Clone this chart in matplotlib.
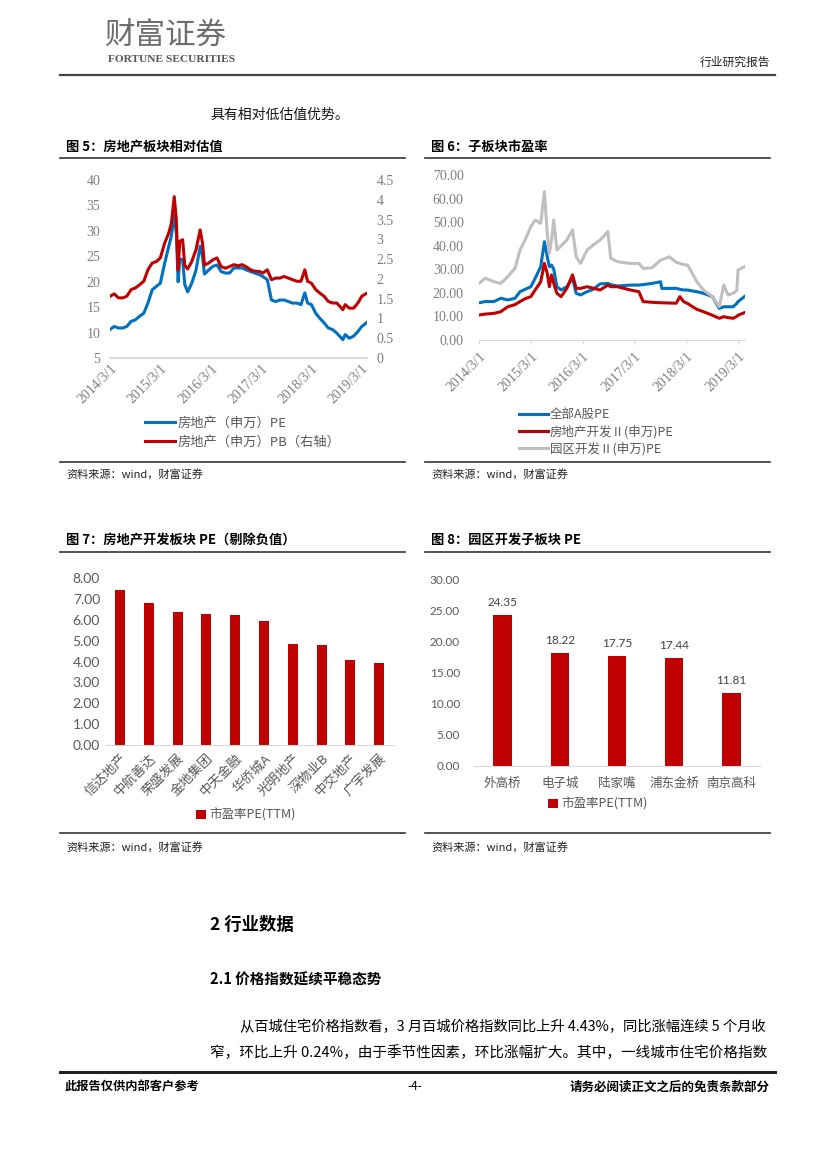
import matplotlib
matplotlib.use("Agg")
import matplotlib.pyplot as plt
from matplotlib.lines import Line2D
import numpy as np
import pandas as pd

W, H = 827, 1170
CJK = ['Noto Sans CJK SC', 'DejaVu Sans']
plt.rcParams['font.family'] = CJK

BLUE = '#0070C0'
RED = '#C00000'
GREY = '#BFBFBF'
AXIS = '#D9D9D9'
TICK = '#7F7F7F'

# ---- 图5：房地产板块相对估值 ----
dates5 = pd.to_datetime([
    '2014-03-01', '2014-04-01', '2014-05-01', '2014-06-01', '2014-07-01', '2014-08-01',
    '2014-09-01', '2014-10-01', '2014-11-01', '2014-12-01', '2015-01-01', '2015-02-01',
    '2015-03-01', '2015-04-01', '2015-05-01', '2015-05-20', '2015-06-10', '2015-06-25',
    '2015-07-08', '2015-07-20', '2015-08-10', '2015-08-25', '2015-09-15', '2015-10-15',
    '2015-11-15', '2015-12-15', '2016-01-01', '2016-01-15', '2016-02-15', '2016-03-15',
    '2016-04-15', '2016-05-15', '2016-06-15', '2016-07-15', '2016-08-15', '2016-09-15',
    '2016-10-15', '2016-11-15', '2016-12-15', '2017-01-15', '2017-02-15', '2017-03-15',
    '2017-04-15', '2017-05-15', '2017-06-15', '2017-07-15', '2017-08-15', '2017-09-15',
    '2017-10-15', '2017-11-15', '2017-12-15', '2018-01-12', '2018-02-01', '2018-03-01',
    '2018-04-01', '2018-05-01', '2018-06-01', '2018-07-01', '2018-08-01', '2018-09-01',
    '2018-10-15', '2018-11-01', '2018-12-01', '2019-01-01', '2019-02-01', '2019-03-01',
    '2019-04-08'])
pe5 = [10.6, 11.2, 10.9, 10.9, 11.2, 12.2,
       12.5, 13.2, 13.8, 15.8, 18.4, 19.1,
       19.7, 23.6, 26.9, 29.0, 33.1, 29.5,
       20.0, 24.5, 24.3, 19.5, 18.0, 19.7,
       22.3, 27.0, 25.0, 21.5, 22.3, 23.0,
       23.3, 22.0, 21.7, 21.7, 22.7, 22.7,
       22.7, 22.3, 22.0, 21.7, 21.4, 21.0,
       20.4, 16.4, 16.1, 16.4, 16.4, 16.1,
       15.8, 15.8, 15.5, 17.8, 15.8, 15.5,
       13.8, 12.8, 11.9, 10.9, 10.6, 9.9,
       8.6, 9.6, 8.9, 9.3, 10.2, 11.2,
       12.0]
pb5 = [1.56, 1.62, 1.52, 1.52, 1.56, 1.73,
       1.77, 1.85, 1.94, 2.23, 2.40, 2.44,
       2.53, 2.90, 3.16, 3.40, 4.08, 3.50,
       2.23, 2.95, 2.99, 2.35, 2.25, 2.44,
       2.74, 3.24, 2.90, 2.35, 2.40, 2.48,
       2.53, 2.31, 2.27, 2.31, 2.36, 2.33,
       2.36, 2.30, 2.23, 2.19, 2.19, 2.15,
       2.23, 1.98, 2.02, 2.02, 2.06, 2.02,
       1.98, 1.94, 1.94, 2.23, 1.94, 1.89,
       1.73, 1.64, 1.56, 1.43, 1.39, 1.39,
       1.22, 1.35, 1.26, 1.26, 1.39, 1.56,
       1.64]

# ---- 图6：子板块市盈率 ----
dates6 = pd.to_datetime([
    '2014-03-01', '2014-04-15', '2014-06-15', '2014-08-01', '2014-09-20', '2014-11-10',
    '2014-12-15', '2015-01-20', '2015-03-01', '2015-04-01', '2015-05-10', '2015-06-05',
    '2015-06-25', '2015-07-10', '2015-07-25', '2015-08-10', '2015-09-01', '2015-10-01',
    '2015-11-10', '2015-12-20', '2016-01-15', '2016-02-15', '2016-04-01', '2016-05-15',
    '2016-07-01', '2016-08-25', '2016-09-15', '2016-11-01', '2017-02-01', '2017-04-01',
    '2017-05-01', '2017-07-01', '2017-09-01', '2017-09-10', '2017-11-01', '2017-12-20',
    '2018-01-15', '2018-02-10', '2018-03-10', '2018-04-15', '2018-05-15', '2018-07-01',
    '2018-09-01', '2018-10-20', '2018-11-20', '2018-12-20', '2019-01-25', '2019-02-20',
    '2019-03-01', '2019-04-15'])
pe_all_a = [15.8, 16.3, 16.3, 17.7, 17.0, 17.7,
            20.5, 21.5, 22.6, 26.2, 31.1, 41.7,
            35.3, 31.1, 31.8, 30.0, 22.6, 21.2,
            22.6, 26.2, 19.8, 19.1, 20.5, 21.5,
            23.8, 24.0, 23.5, 22.9, 23.3, 23.3,
            23.5, 24.0, 24.7, 21.9, 21.9, 21.9,
            21.5, 21.2, 21.2, 20.8, 20.5, 19.8,
            18.4, 13.4, 14.1, 14.1, 14.1, 15.5,
            16.3, 18.4]
pe_dev = [10.6, 11.0, 11.3, 12.0, 14.1, 15.0,
          16.3, 17.5, 18.4, 21.2, 24.7, 32.5,
          28.3, 22.6, 27.6, 24.0, 19.8, 18.4,
          21.9, 27.6, 21.9, 21.9, 22.6, 22.0,
          21.2, 23.3, 22.6, 22.6, 21.2, 20.5,
          16.3, 16.0, 15.8, 15.8, 15.7, 15.6,
          18.4, 16.3, 15.5, 14.1, 13.0, 12.0,
          10.5, 9.2, 9.9, 9.5, 9.2, 10.0,
          10.5, 11.6]
pe_park = [24.0, 26.2, 24.7, 24.0, 26.9, 30.4,
           38.2, 42.4, 48.1, 50.9, 49.5, 62.9,
           45.0, 36.8, 42.4, 50.9, 38.2, 40.0,
           42.4, 46.7, 35.3, 32.5, 38.2, 40.3,
           42.4, 46.0, 34.7, 33.2, 32.5, 32.5,
           30.4, 30.6, 33.9, 34.0, 35.3, 33.0,
           32.5, 32.0, 31.8, 28.0, 24.7, 21.2,
           18.4, 14.1, 23.3, 19.1, 19.8, 21.0,
           29.7, 31.1]

tick_dates = pd.to_datetime(['2014-03-01', '2015-03-01', '2016-03-01',
                             '2017-03-01', '2018-03-01', '2019-03-01'])
tick_labels = ['2014/3/1', '2015/3/1', '2016/3/1', '2017/3/1', '2018/3/1', '2019/3/1']

# ---- 图7：房地产开发板块PE（剔除负值） ----
names7 = ['信达地产', '中航善达', '荣盛发展', '金地集团', '中天金融',
          '华侨城A', '光明地产', '深物业B', '中交地产', '广宇发展']
pe7 = [7.42, 6.81, 6.37, 6.31, 6.26, 5.96, 4.87, 4.82, 4.08, 3.92]

# ---- 图8：园区开发子板块PE ----
names8 = ['外高桥', '电子城', '陆家嘴', '浦东金桥', '南京高科']
pe8 = [24.35, 18.22, 17.75, 17.44, 11.81]


fig = plt.figure(figsize=(W / 100, H / 100), dpi=100)


def fxy(x, y):
    return x / W, 1 - y / H


def add_axes_px(left, top, right, bottom):
    return fig.add_axes([left / W, 1 - bottom / H, (right - left) / W, (bottom - top) / H])


def hline(x0, x1, y, lw=1.2, color='#333333'):
    fig.add_artist(Line2D([x0 / W, x1 / W], [1 - y / H, 1 - y / H],
                          transform=fig.transFigure, lw=lw, color=color))


def txt(x, y, s, size, **kw):
    kw.setdefault('va', 'center')
    fig.text(*fxy(x, y), s, fontsize=size, **kw)


# 页眉
txt(105, 36, '财富证券', 22, color='#6E6E6E')
txt(108, 60, 'FORTUNE SECURITIES', 8.2, color='#555555', family='Liberation Serif',
    weight='bold')
txt(770, 62, '行业研究报告', 8.5, ha='right', color='#222222')
hline(60, 775, 75, lw=1.6, color='#444444')
txt(210, 115, '具有相对低估值优势。', 10, color='#111111')

# 图表标题、分隔线、来源
for x0, x1, title in [(60, 405, '图 5：房地产板块相对估值'), (425, 770, '图 6：子板块市盈率')]:
    txt(x0 + 6, 147, title, 9.5, weight='bold')
    hline(x0, x1, 158)
    hline(x0, x1, 462)
    txt(x0 + 6, 474, '资料来源：wind，财富证券', 8, color='#222222')
for x0, x1, title in [(60, 405, '图 7：房地产开发板块 PE（剔除负值）'), (425, 770, '图 8：园区开发子板块 PE')]:
    txt(x0 + 6, 540, title, 9.5, weight='bold')
    hline(x0, x1, 552)
    hline(x0, x1, 833)
    txt(x0 + 6, 847, '资料来源：wind，财富证券', 8, color='#222222')

# ---- 图5 ----
ax5 = add_axes_px(110, 180, 367, 358)
l_pe, = ax5.plot(dates5, pe5, color=BLUE, lw=2.2)
ax5.set_ylim(5, 40)
ax5.set_yticks(range(5, 41, 5))
ax5.set_xlim(pd.Timestamp('2014-03-01'), pd.Timestamp('2019-04-08'))
ax5b = ax5.twinx()
l_pb, = ax5b.plot(dates5, pb5, color=RED, lw=2.2)
ax5b.set_ylim(0, 4.5)
ax5b.set_yticks(np.arange(0, 4.51, 0.5))
ax5b.yaxis.set_major_formatter(lambda v, p: f'{v:g}')
for a in (ax5, ax5b):
    for s in a.spines.values():
        s.set_visible(False)
ax5.spines['bottom'].set_visible(True)
ax5.spines['bottom'].set_color(AXIS)
ax5.spines['bottom'].set_linewidth(1.5)
ax5.set_xticks(tick_dates)
ax5.set_xticklabels(tick_labels, rotation=45, ha='right', va='top', rotation_mode='anchor')
ax5.tick_params(axis='x', length=0, pad=3, labelsize=10, labelcolor=TICK)
ax5.tick_params(axis='y', length=0, pad=7, labelsize=10, labelcolor=TICK)
ax5b.tick_params(axis='y', length=0, pad=7, labelsize=10, labelcolor=TICK)
for lab in ax5.get_xticklabels() + ax5.get_yticklabels() + ax5b.get_yticklabels():
    lab.set_fontfamily('Liberation Serif')
fig.legend([l_pe, l_pb], ['房地产（申万）PE', '房地产（申万）PB（右轴）'],
           loc='upper left', bbox_to_anchor=fxy(145, 417), frameon=False,
           fontsize=9.5, handlelength=2.3, handletextpad=0.2, labelspacing=0.45,
           borderpad=0, borderaxespad=0, labelcolor='#595959')

# ---- 图6 ----
ax6 = add_axes_px(479, 175, 745, 340)
h1, = ax6.plot(dates6, pe_all_a, color=BLUE, lw=2.2)
h2, = ax6.plot(dates6, pe_dev, color=RED, lw=2.2)
h3, = ax6.plot(dates6, pe_park, color=GREY, lw=2.2)
ax6.set_ylim(0, 70)
ax6.set_yticks(range(0, 71, 10))
ax6.yaxis.set_major_formatter(lambda v, p: f'{v:.2f}')
ax6.set_xlim(pd.Timestamp('2014-03-01'), pd.Timestamp('2019-04-19'))
for s in ax6.spines.values():
    s.set_visible(False)
ax6.spines['bottom'].set_visible(True)
ax6.spines['bottom'].set_color(AXIS)
ax6.set_xticks(tick_dates)
ax6.set_xticklabels(tick_labels, rotation=45, ha='right', va='top', rotation_mode='anchor')
ax6.tick_params(axis='x', length=3, color=AXIS, pad=4, labelsize=10, labelcolor=TICK)
ax6.tick_params(axis='y', length=0, pad=11, labelsize=10, labelcolor=TICK)
for lab in ax6.get_xticklabels() + ax6.get_yticklabels():
    lab.set_fontfamily('Liberation Serif')
fig.legend([h1, h2, h3], ['全部A股PE', '房地产开发Ⅱ(申万)PE', '园区开发Ⅱ(申万)PE'],
           loc='upper left', bbox_to_anchor=fxy(519, 408), frameon=False,
           fontsize=9, handlelength=2.3, handletextpad=0.15, labelspacing=0.3,
           borderpad=0, borderaxespad=0, labelcolor='#595959')

# ---- 图7 ----
ax7 = add_axes_px(105.6, 578.3, 393.6, 745)
b7 = ax7.bar(range(len(names7)), pe7, width=0.35, color=RED, label='市盈率PE(TTM)')
ax7.set_xlim(-0.5, len(names7) - 0.5)
ax7.set_ylim(0, 8)
ax7.set_yticks(range(0, 9))
ax7.yaxis.set_major_formatter(lambda v, p: f'{v:.2f}')
for s in ax7.spines.values():
    s.set_visible(False)
ax7.spines['bottom'].set_visible(True)
ax7.spines['bottom'].set_color(AXIS)
ax7.set_xticks(range(len(names7)))
ax7.set_xticklabels(names7, rotation=45, ha='right', va='top', rotation_mode='anchor')
ax7.tick_params(axis='x', length=0, pad=5, labelsize=9.5, labelcolor='#595959')
ax7.tick_params(axis='y', length=0, pad=4, labelsize=10, labelcolor='#595959')
for lab in ax7.get_yticklabels():
    lab.set_fontfamily('Lato')
ax7.legend(loc='center', bbox_to_anchor=fxy(246, 815), bbox_transform=fig.transFigure,
           frameon=False, fontsize=9, handlelength=0.75, handleheight=0.75,
           handletextpad=0.3, labelcolor='#595959')

# ---- 图8 ----
ax8 = add_axes_px(474, 580, 760, 765.7)
b8 = ax8.bar(range(len(names8)), pe8, width=0.32, color=RED, label='市盈率PE(TTM)')
ax8.bar_label(b8, fmt='%.2f', padding=5, fontsize=8.5, color='#404040', family='Lato')
ax8.set_xlim(-0.5, len(names8) - 0.5)
ax8.set_ylim(0, 30)
ax8.set_yticks(range(0, 31, 5))
ax8.yaxis.set_major_formatter(lambda v, p: f'{v:.2f}')
for s in ax8.spines.values():
    s.set_visible(False)
ax8.spines['bottom'].set_visible(True)
ax8.spines['bottom'].set_color(AXIS)
ax8.set_xticks(range(len(names8)))
ax8.set_xticklabels(names8)
ax8.tick_params(axis='x', length=0, pad=8, labelsize=9, labelcolor='#595959')
ax8.tick_params(axis='y', length=0, pad=10, labelsize=8.5, labelcolor='#595959')
for lab in ax8.get_yticklabels():
    lab.set_fontfamily('Lato')
ax8.legend(loc='center', bbox_to_anchor=fxy(598, 804), bbox_transform=fig.transFigure,
           frameon=False, fontsize=9, handlelength=0.75, handleheight=0.75,
           handletextpad=0.3, labelcolor='#595959')

# 正文
txt(210, 925, '2 行业数据', 12.5, weight='bold')
txt(210, 980, '2.1 价格指数延续平稳态势', 10.5, weight='bold')
txt(240, 1027, '从百城住宅价格指数看，3 月百城价格指数同比上升 4.43%，同比涨幅连续 5 个月收', 10.3)
txt(210, 1053, '窄，环比上升 0.24%，由于季节性因素，环比涨幅扩大。其中，一线城市住宅价格指数', 10.5)

# 页脚
hline(60, 775, 1072, lw=2.2, color='#222222')
txt(65, 1087, '此报告仅供内部客户参考', 8.8, weight='bold')
txt(415, 1087, '-4-', 8.5, ha='center')
txt(770, 1087, '请务必阅读正文之后的免责条款部分', 9, weight='bold', ha='right')

fig.savefig('out.png', dpi=100)
